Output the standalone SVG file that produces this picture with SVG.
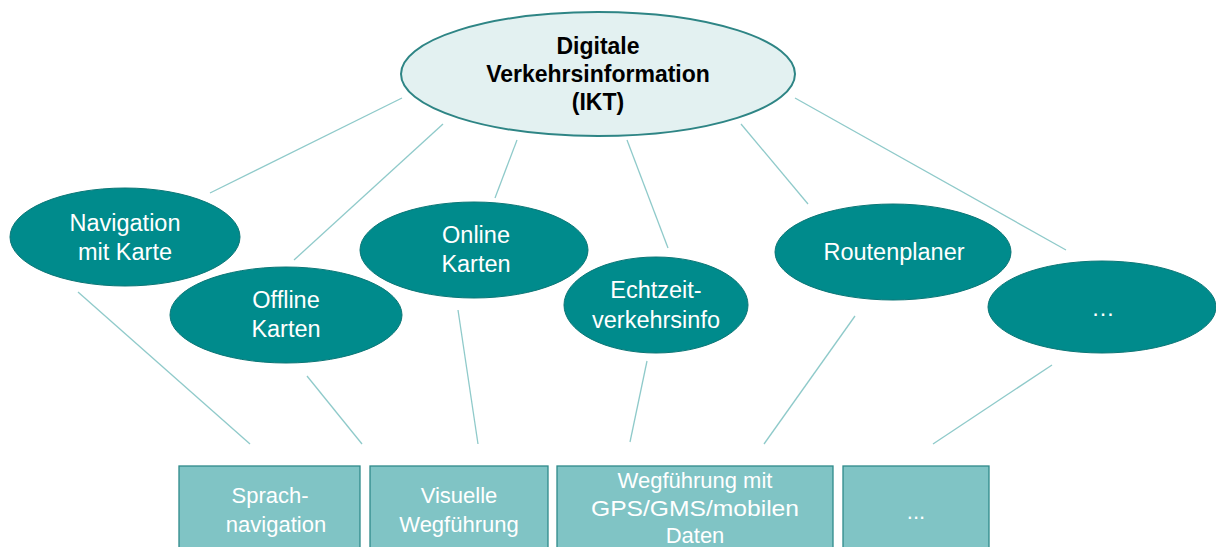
<svg xmlns="http://www.w3.org/2000/svg" width="1216" height="547" viewBox="0 0 1216 547">
<style>
.conn line{stroke:#8fcaca;stroke-width:1.3}
.el{fill:#008b8c;stroke:#0a7676;stroke-width:1}
.top{fill:#e3f1f1;stroke:#2e8585;stroke-width:2}
.box{fill:#80c4c5;stroke:#2f8a8a;stroke-width:1.3}
.t{font-family:"Liberation Sans",Arial,sans-serif;font-size:23.5px;fill:#fff;text-anchor:middle}
.tb{font-family:"Liberation Sans",Arial,sans-serif;font-size:22px;fill:#fff;text-anchor:middle}
.tt{font-family:"Liberation Sans",Arial,sans-serif;font-size:23px;font-weight:bold;fill:#000;text-anchor:middle}
</style>
<rect width="1216" height="547" fill="#fff"/>
<g id="connectors" class="conn">
<line x1="402" y1="98" x2="210" y2="193"/>
<line x1="443" y1="124" x2="294" y2="260"/>
<line x1="517" y1="140" x2="495" y2="198"/>
<line x1="627" y1="140" x2="668" y2="248"/>
<line x1="741" y1="124" x2="808" y2="204"/>
<line x1="795" y1="98" x2="1066" y2="250"/>
<line x1="78" y1="292" x2="250" y2="444"/>
<line x1="307" y1="376" x2="362" y2="444"/>
<line x1="458" y1="310" x2="478" y2="444"/>
<line x1="647" y1="361" x2="630" y2="442"/>
<line x1="855" y1="316" x2="764" y2="444"/>
<line x1="1052" y1="365" x2="933" y2="444"/>
</g>
<g id="root">
<ellipse class="top" cx="598" cy="74" rx="197" ry="62"/>
<text class="tt" x="598" y="54">Digitale</text>
<text class="tt" x="598" y="82">Verkehrsinformation</text>
<text class="tt" x="598" y="110">(IKT)</text>
</g>
<g id="navigation">
<ellipse class="el" cx="125" cy="237" rx="115" ry="49"/>
<text class="t" x="125" y="231">Navigation</text>
<text class="t" x="125" y="260">mit Karte</text>
</g>
<g id="offline">
<ellipse class="el" cx="286" cy="315" rx="116" ry="48"/>
<text class="t" x="286" y="308">Offline</text>
<text class="t" x="286" y="337">Karten</text>
</g>
<g id="online">
<ellipse class="el" cx="474" cy="250" rx="114" ry="48"/>
<text class="t" x="476" y="243">Online</text>
<text class="t" x="476" y="272">Karten</text>
</g>
<g id="echtzeit">
<ellipse class="el" cx="656" cy="305" rx="92" ry="48"/>
<text class="t" x="656" y="298">Echtzeit-</text>
<text class="t" x="656" y="328">verkehrsinfo</text>
</g>
<g id="routenplaner">
<ellipse class="el" cx="893" cy="252" rx="118" ry="48"/>
<text class="t" x="894" y="260">Routenplaner</text>
</g>
<g id="more">
<ellipse class="el" cx="1102" cy="307" rx="114" ry="46"/>
<text class="t" x="1103" y="316">…</text>
</g>
<g id="sprach">
<rect class="box" x="179" y="466" width="181" height="90"/>
<text class="tb" x="270" y="503">Sprach-</text>
<text class="tb" x="276" y="532">navigation</text>
</g>
<g id="visuelle">
<rect class="box" x="370" y="466" width="178" height="90"/>
<text class="tb" x="459" y="503">Visuelle</text>
<text class="tb" x="459" y="532">Wegführung</text>
</g>
<g id="wegfuehrung">
<rect class="box" x="557" y="466" width="276" height="90"/>
<text class="tb" x="695" y="488">Wegführung mit</text>
<text class="tb" x="695" y="516" textLength="208" lengthAdjust="spacingAndGlyphs">GPS/GMS/mobilen</text>
<text class="tb" x="695" y="543">Daten</text>
</g>
<g id="more-box">
<rect class="box" x="843" y="466" width="146" height="90"/>
<text class="tb" x="916" y="519">...</text>
</g>
</svg>
